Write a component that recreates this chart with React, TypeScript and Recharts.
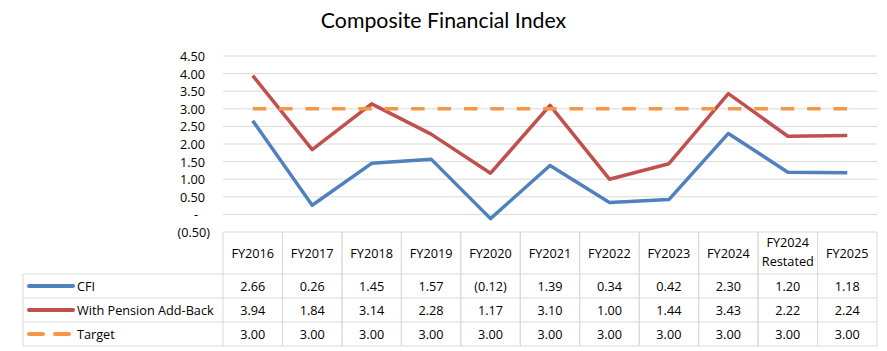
import { CartesianGrid, Line, LineChart, XAxis, YAxis } from "recharts";

const years = [
	"FY2016",
	"FY2017",
	"FY2018",
	"FY2019",
	"FY2020",
	"FY2021",
	"FY2022",
	"FY2023",
	"FY2024",
	"FY2024 Restated",
	"FY2025",
];
const cfi = [2.66, 0.26, 1.45, 1.57, -0.12, 1.39, 0.34, 0.42, 2.3, 1.2, 1.18];
const pensionAddBack = [3.94, 1.84, 3.14, 2.28, 1.17, 3.1, 1.0, 1.44, 3.43, 2.22, 2.24];
const target = [3.0, 3.0, 3.0, 3.0, 3.0, 3.0, 3.0, 3.0, 3.0, 3.0, 3.0];
const yTicks = [-0.5, 0, 0.5, 1, 1.5, 2, 2.5, 3, 3.5, 4, 4.5];

const series = [
	{ key: "cfi", name: "CFI", color: "#4F81BD", values: cfi, dash: undefined },
	{ key: "pension", name: "With Pension Add-Back", color: "#C0504D", values: pensionAddBack, dash: undefined },
	{ key: "target", name: "Target", color: "#F79646", values: target, dash: "13.5 12.9" },
];

const data = years.map((year, i) => ({
	year,
	cfi: cfi[i],
	pension: pensionAddBack[i],
	target: target[i],
}));

const WIDTH = 887;
const HEIGHT = 351;
const MARGIN = { top: 56, right: 10, left: 163, bottom: 4 };
const Y_AXIS_W = 60;
const PLOT_W = WIDTH - MARGIN.left - Y_AXIS_W - MARGIN.right;
const COL_W = PLOT_W / years.length;
const LABEL_W = 200;
const GRID = "#D9D9D9";
const FONT = "'Open Sans', sans-serif";
const FS = 12.7;

function fmt(v: number): string {
	if (v < 0) return `(${Math.abs(v).toFixed(2)})`;
	return v.toFixed(2);
}

function YTick({ x, y, payload }: any) {
	const v = payload.value as number;
	let label = v.toFixed(2);
	let tx = x - 18;
	let anchor: "end" | "middle" = "end";
	if (v < 0) {
		label = fmt(v);
		tx = x - 13;
	} else if (v === 0) {
		label = "-";
		tx = x - 27;
		anchor = "middle";
	}
	return (
		<text x={tx} y={y} textAnchor={anchor} dominantBaseline="central" fontSize={FS} fontFamily={FONT} fill="#000">
			{label}
		</text>
	);
}

// each x-axis tick draws one column of the data table
function TableColumn({ x, y, payload, index }: any) {
	const left = x - COL_W / 2;
	const right = x + COL_W / 2;
	const headerBottom = y + 42;
	const rowH = 24;
	const bottom = headerBottom + rowH * 3;
	const lines = String(payload.value).split(" ");
	return (
		<g>
			<line x1={left} y1={y} x2={left} y2={bottom} stroke={GRID} />
			<line x1={right} y1={y} x2={right} y2={bottom} stroke={GRID} />
			{[0, 1, 2, 3].map((r) => (
				<line key={r} x1={left} y1={headerBottom + r * rowH} x2={right} y2={headerBottom + r * rowH} stroke={GRID} />
			))}
			{lines.length === 1 ? (
				<text x={x} y={y + 21} textAnchor="middle" dominantBaseline="central" fontSize={FS} fontFamily={FONT} fill="#000">
					{lines[0]}
				</text>
			) : (
				lines.map((l, i) => (
					<text key={i} x={x} y={y + 10 + i * 19} textAnchor="middle" dominantBaseline="central" fontSize={FS} fontFamily={FONT} fill="#000">
						{l}
					</text>
				))
			)}
			{series.map((s, r) => (
				<text key={s.key} x={x} y={headerBottom + rowH * r + rowH / 2} textAnchor="middle" dominantBaseline="central" fontSize={FS} fontFamily={FONT} fill="#000">
					{fmt(s.values[index])}
				</text>
			))}
			{index === 0 ? (
				<g>
					<line x1={left - LABEL_W} y1={headerBottom} x2={left - LABEL_W} y2={bottom} stroke={GRID} />
					{[0, 1, 2, 3].map((r) => (
						<line key={r} x1={left - LABEL_W} y1={headerBottom + r * rowH} x2={left} y2={headerBottom + r * rowH} stroke={GRID} />
					))}
					{series.map((s, r) => {
						const cy = headerBottom + rowH * r + rowH / 2;
						return (
							<g key={s.key}>
								{s.dash ? (
									<g>
										<line x1={left - LABEL_W + 6} y1={cy} x2={left - LABEL_W + 20} y2={cy} stroke={s.color} strokeWidth={4} strokeLinecap="round" />
										<line x1={left - LABEL_W + 32} y1={cy} x2={left - LABEL_W + 46} y2={cy} stroke={s.color} strokeWidth={4} strokeLinecap="round" />
									</g>
								) : (
									<line x1={left - LABEL_W + 6} y1={cy} x2={left - LABEL_W + 50} y2={cy} stroke={s.color} strokeWidth={4} strokeLinecap="round" />
								)}
								<text x={left - LABEL_W + 54} y={cy} dominantBaseline="central" fontSize={FS} fontFamily={FONT} fill="#000">
									{s.name}
								</text>
							</g>
						);
					})}
				</g>
			) : null}
		</g>
	);
}

export default function App() {
	return (
		<div style={{ position: "relative", width: WIDTH, height: HEIGHT, background: "#fff" }}>
			<style>{"body{margin:0}"}</style>
			<div
				style={{
					position: "absolute",
					top: 7,
					left: 0,
					width: WIDTH,
					textAlign: "center",
					fontFamily: "Lato, sans-serif",
					fontSize: 21.3,
					lineHeight: "26px",
					color: "#000",
				}}>
				Composite Financial Index
			</div>
			<LineChart width={WIDTH} height={HEIGHT} data={data} margin={MARGIN}>
				<CartesianGrid stroke={GRID} vertical={false} />
				<XAxis
					dataKey="year"
					interval={0}
					axisLine={false}
					tickLine={false}
					tickSize={0}
					tickMargin={0}
					height={115}
					padding={{ left: COL_W / 2, right: COL_W / 2 }}
					tick={(p: any) => <TableColumn {...p} />}
				/>
				<YAxis
					width={Y_AXIS_W}
					domain={[-0.5, 4.5]}
					ticks={yTicks}
					interval={0}
					axisLine={false}
					tickLine={false}
					tickSize={0}
					tickMargin={0}
					tick={(p: any) => <YTick {...p} />}
				/>
				{series.map((s) => (
					<Line
						key={s.key}
						dataKey={s.key}
						name={s.name}
						stroke={s.color}
						strokeWidth={3.5}
						strokeDasharray={s.dash}
						strokeLinejoin="round"
						dot={false}
						activeDot={false}
						isAnimationActive={false}
					/>
				))}
			</LineChart>
		</div>
	);
}
